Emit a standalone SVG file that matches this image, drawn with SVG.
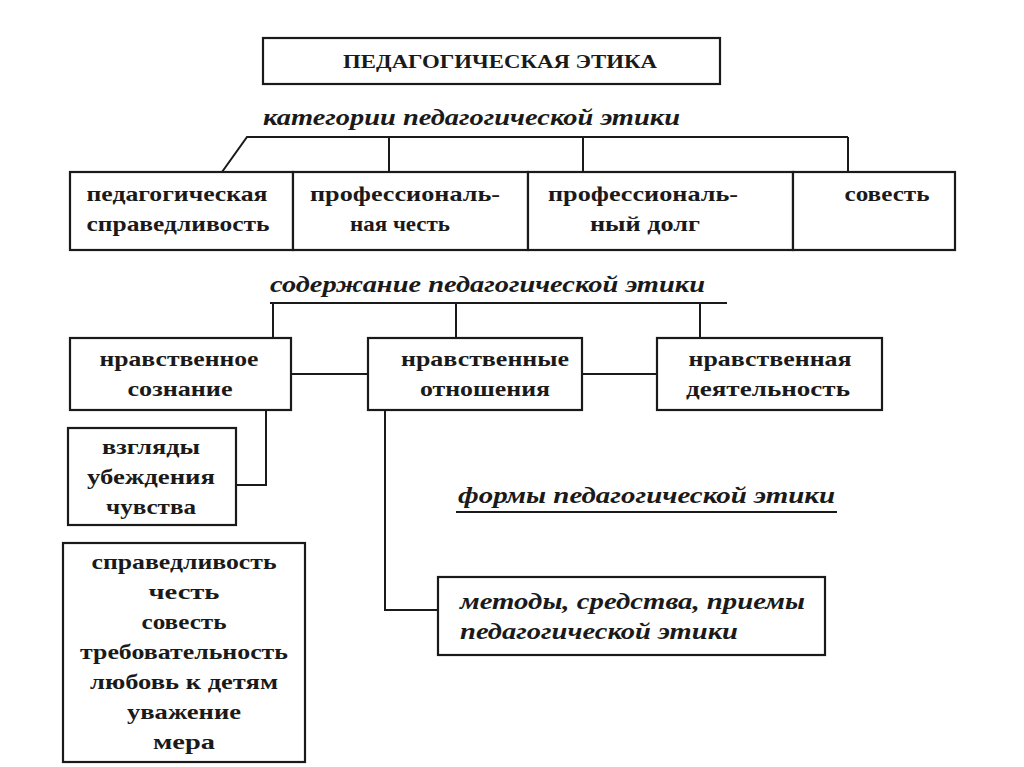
<svg xmlns="http://www.w3.org/2000/svg" width="1024" height="767" viewBox="0 0 1024 767">
<style>
.b{fill:#fff;stroke:#1a1a1a;stroke-width:2.2}
.t{font-family:"Liberation Serif","DejaVu Serif",serif;font-weight:bold;font-size:21px;fill:#1a1a1a;text-anchor:middle}
.i{font-family:"Liberation Serif","DejaVu Serif",serif;font-weight:bold;font-style:italic;font-size:23px;fill:#1a1a1a}
.c{fill:none;stroke:#1a1a1a;stroke-width:2}
</style>
<rect width="1024" height="767" fill="#fff"/>
<g id="connectors">
<path class="c" d="M222,172 L247,137 L848,137 M389,137 V172 M583,137 V172 M848,137 V172"/>
<path class="c" d="M270,303 H727 M273,303 V338 M456,303 V338 M700,303 V338"/>
<path class="c" d="M291,374 H368 M582,374 H657"/>
<path class="c" d="M266,410 V485 H236"/>
<path class="c" d="M385,410 V610 H438"/>
<path class="c" d="M456,512 H837"/>
</g>
<g id="title"><rect class="b" x="263" y="38" width="457" height="46"/><text class="t" x="500" y="68" style="font-size:18px" textLength="314" lengthAdjust="spacingAndGlyphs">ПЕДАГОГИЧЕСКАЯ ЭТИКА</text></g>
<g id="label-categories"><text class="i" x="263" y="125" textLength="417" lengthAdjust="spacingAndGlyphs">категории педагогической этики</text></g>
<g id="n1"><rect class="b" x="70" y="172" width="223" height="78"/><text class="t" x="177" y="201" textLength="181" lengthAdjust="spacingAndGlyphs">педагогическая</text><text class="t" x="178" y="231" textLength="183" lengthAdjust="spacingAndGlyphs">справедливость</text></g>
<g id="n2"><rect class="b" x="293" y="172" width="235" height="78"/><text class="t" x="405" y="201" textLength="190" lengthAdjust="spacingAndGlyphs">профессиональ-</text><text class="t" x="400" y="231" textLength="100" lengthAdjust="spacingAndGlyphs">ная честь</text></g>
<g id="n3"><rect class="b" x="528" y="172" width="265" height="78"/><text class="t" x="643" y="201" textLength="190" lengthAdjust="spacingAndGlyphs">профессиональ-</text><text class="t" x="645" y="231" textLength="110" lengthAdjust="spacingAndGlyphs">ный долг</text></g>
<g id="n4"><rect class="b" x="793" y="172" width="162" height="78"/><text class="t" x="887" y="201" textLength="85" lengthAdjust="spacingAndGlyphs">совесть</text></g>
<g id="label-content"><text class="i" x="270" y="292" textLength="435" lengthAdjust="spacingAndGlyphs">содержание педагогической этики</text></g>
<g id="n5"><rect class="b" x="70" y="338" width="221" height="72"/><text class="t" x="179" y="366" textLength="159" lengthAdjust="spacingAndGlyphs">нравственное</text><text class="t" x="180" y="396" textLength="105" lengthAdjust="spacingAndGlyphs">сознание</text></g>
<g id="n6"><rect class="b" x="368" y="338" width="214" height="72"/><text class="t" x="485" y="366" textLength="168" lengthAdjust="spacingAndGlyphs">нравственные</text><text class="t" x="485" y="396" textLength="130" lengthAdjust="spacingAndGlyphs">отношения</text></g>
<g id="n7"><rect class="b" x="657" y="338" width="225" height="72"/><text class="t" x="770" y="366" textLength="163" lengthAdjust="spacingAndGlyphs">нравственная</text><text class="t" x="768" y="396" textLength="164" lengthAdjust="spacingAndGlyphs">деятельность</text></g>
<g id="n8"><rect class="b" x="68" y="428" width="168" height="97"/><text class="t" x="151" y="454" textLength="98" lengthAdjust="spacingAndGlyphs">взгляды</text><text class="t" x="151" y="484" textLength="128" lengthAdjust="spacingAndGlyphs">убеждения</text><text class="t" x="151" y="514" textLength="90" lengthAdjust="spacingAndGlyphs">чувства</text></g>
<g id="label-forms"><text class="i" x="458" y="503" textLength="377" lengthAdjust="spacingAndGlyphs">формы педагогической этики</text></g>
<g id="n9"><rect class="b" x="438" y="577" width="387" height="78"/><text class="i" x="460" y="609" textLength="345" lengthAdjust="spacingAndGlyphs">методы, средства, приемы</text><text class="i" x="460" y="639" textLength="278" lengthAdjust="spacingAndGlyphs">педагогической этики</text></g>
<g id="n10"><rect class="b" x="63" y="543" width="242" height="219"/>
<text class="t" x="184" y="569" textLength="185" lengthAdjust="spacingAndGlyphs">справедливость</text><text class="t" x="184" y="599" textLength="71" lengthAdjust="spacingAndGlyphs">честь</text><text class="t" x="184" y="629" textLength="85" lengthAdjust="spacingAndGlyphs">совесть</text><text class="t" x="184" y="659" textLength="208" lengthAdjust="spacingAndGlyphs">требовательность</text><text class="t" x="184" y="689" textLength="188" lengthAdjust="spacingAndGlyphs">любовь к детям</text><text class="t" x="184" y="719" textLength="114" lengthAdjust="spacingAndGlyphs">уважение</text><text class="t" x="184" y="749" textLength="62" lengthAdjust="spacingAndGlyphs">мера</text></g>
</svg>
